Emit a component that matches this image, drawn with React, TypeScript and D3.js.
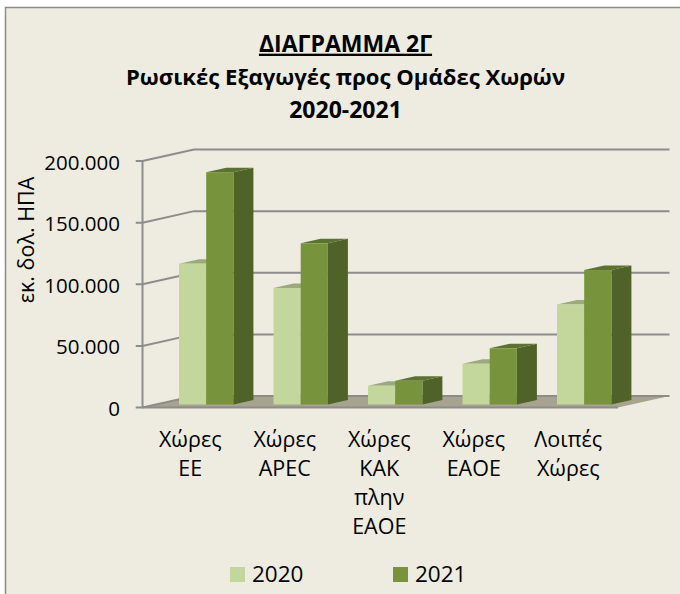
import React from "react";
import * as d3 from "d3";

const categories = ["Χώρες ΕΕ", "Χώρες APEC", "Χώρες ΚΑΚ", "Χώρες ΕΑΟΕ", "Λοιπές Χώρες"];
const categoryLines = [["Χώρες", "ΕΕ"], ["Χώρες", "APEC"], ["Χώρες", "ΚΑΚ", "πλην", "ΕΑΟΕ"], ["Χώρες", "ΕΑΟΕ"], ["Λοιπές", "Χώρες"]];
const values2020 = [114300, 94500, 15200, 33000, 81100];
const values2021 = [188500, 130800, 19200, 45600, 109100];
const yTicks = [0, 50000, 100000, 150000, 200000];
const yTickLabels = ["0", "50.000", "100.000", "150.000", "200.000"];
const titleLines = ["ΔΙΑΓΡΑΜΜΑ 2Γ", "Ρωσικές Εξαγωγές προς Ομάδες Χωρών", "2020-2021"];
const seriesNames = ["2020", "2021"];

const FONT = "'Open Sans', 'Noto Sans', sans-serif";
const AXIS = "#8C8C8C";
const colors = [
  { front: "#C3D69B", top: "#9BAA7B", side: "#9BAA7B" },
  { front: "#77933C", top: "#5C7230", side: "#4F6228" },
];

export default function App() {
  const plotLeft = 142.5, plotRight = 618, plotBottom = 407.5, plotTop = 161;
  const depthX = 51.5, depthY = 11.5;
  const y = d3.scaleLinear().domain([0, 200000]).range([plotBottom, plotTop]);
  const x = d3.scaleBand<string>().domain(categories).range([143, 615.5]);
  const barW = 27.2, barStart = 36, barDX = 20, barDY = 4.5, barLift = 3;
  const path = d3.line();

  return (
    <svg width={680} height={594} style={{ position: "absolute", left: 0, top: 0 }} fontFamily={FONT}>
      <rect x={5.5} y={7.5} width={675} height={587} fill="#EEECE1" />
      <path d="M5.5 594V7.5H680" fill="none" stroke="#8C8C8C" strokeWidth={1.5} />

      {titleLines.map((t, i) => (
        <text key={t} x={345.5} y={[51.7, 85, 117.7][i]} textAnchor="middle" fontSize={[23, 22.1, 23][i]} fontWeight={700} fill="#000" textDecoration={i === 0 ? "underline" : undefined}>{t}</text>
      ))}

      <path d={path([[plotLeft, plotBottom], [plotRight, plotBottom], [plotRight + depthX, plotBottom - depthY], [plotLeft + depthX, plotBottom - depthY]])! + "Z"} fill="#A6A38F" />

      {yTicks.map((t, i) => {
        const py = y(t);
        return (
          <g key={t}>
            <path d={path([[135.7, py], [plotLeft, py], [plotLeft + depthX, py - depthY], [plotRight + depthX, py - depthY]])!} fill="none" stroke={AXIS} strokeWidth={2} />
            <text x={120} y={py + 8.5} textAnchor="end" fontSize={20.5} fill="#000">{yTickLabels[i]}</text>
          </g>
        );
      })}
      <line x1={plotLeft} x2={plotLeft} y1={plotTop} y2={plotBottom} stroke={AXIS} strokeWidth={2} />
      <line x1={plotLeft} x2={plotRight} y1={plotBottom} y2={plotBottom} stroke={AXIS} strokeWidth={2} />

      {categories.map((c, i) => {
        const gx = x(c)! + barStart;
        return (
          <g key={c}>
            {[values2020[i], values2021[i]].map((v, s) => {
              const x0 = gx + s * barW, x1 = x0 + barW;
              const base = plotBottom - barLift;
              const top = base - (y(0) - y(v));
              return (
                <g key={s}>
                  <path d={path([[x1, base], [x1 + barDX, base - barDY], [x1 + barDX, top - barDY], [x1, top]])! + "Z"} fill={colors[s].side} />
                  <path d={path([[x0, top], [x0 + barDX, top - barDY], [x1 + barDX, top - barDY], [x1, top]])! + "Z"} fill={colors[s].top} />
                  <rect x={x0} y={top} width={barW} height={base - top} fill={colors[s].front} />
                </g>
              );
            })}
            {categoryLines[i].map((l, j) => (
              <text key={j} x={x(c)! + x.bandwidth() / 2} y={446.7 + j * 29} textAnchor="middle" fontSize={21.5} fill="#000">{l}</text>
            ))}
          </g>
        );
      })}

      <text transform="translate(34.3,240) rotate(-90)" textAnchor="middle" fontSize={21.5} fill="#000">εκ. δολ. ΗΠΑ</text>

      {seriesNames.map((n, i) => (
        <g key={n}>
          <rect x={230 + i * 163} y={567} width={15} height={15} fill={colors[i].front} />
          <text x={252 + i * 163} y={582.3} fontSize={22.5} fill="#000">{n}</text>
        </g>
      ))}
    </svg>
  );
}
